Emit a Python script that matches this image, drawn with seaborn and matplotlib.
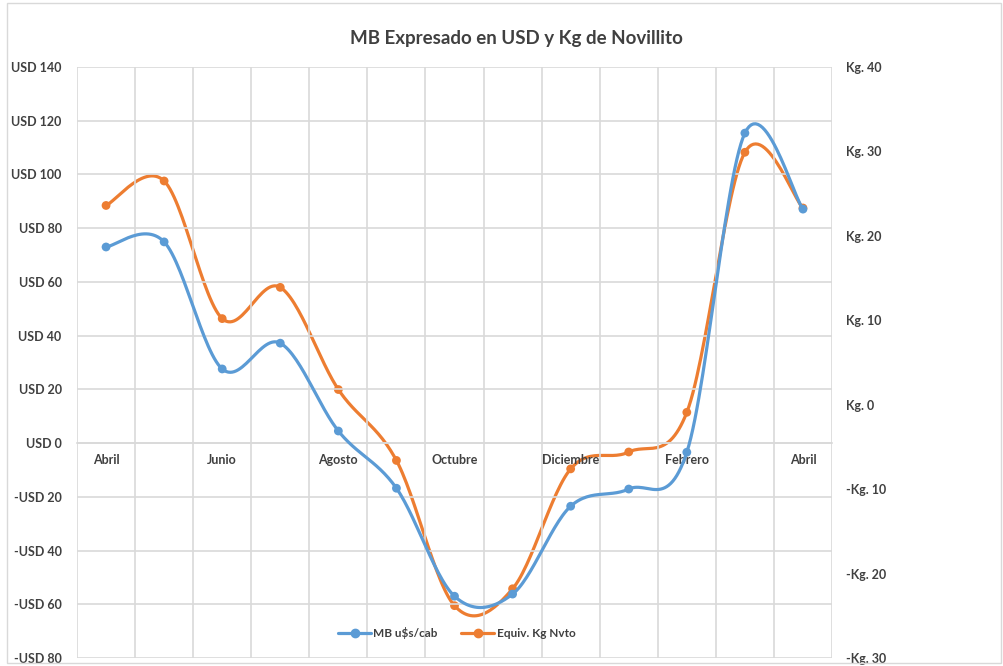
import numpy as np
import pandas as pd
import matplotlib
matplotlib.use("Agg")
import matplotlib.pyplot as plt
from matplotlib.lines import Line2D
from matplotlib.ticker import FuncFormatter, MultipleLocator
import seaborn as sns

meses = ["Abril", "Mayo", "Junio", "Julio", "Agosto", "Septiembre", "Octubre",
         "Noviembre", "Diciembre", "Enero", "Febrero", "Marzo", "Abril"]
mb_usd = [73.0, 74.9, 27.6, 37.2, 4.5, -16.8, -57.0, -56.2, -23.5, -17.1, -3.4, 115.4, 87.1]
equiv_kg = [23.6, 26.5, 10.2, 13.9, 1.8, -6.6, -23.8, -21.8, -7.6, -5.6, -0.9, 29.9, 23.3]

BLUE = "#5B9BD5"
ORANGE = "#ED7D31"
GRID = "#D9D9D9"
TXT = "#404040"

sns.set_theme(style="white")
plt.rcParams["font.family"] = ["Lato", "DejaVu Sans"]

df = pd.DataFrame({"x": np.arange(len(meses)), "usd": mb_usd, "kg": equiv_kg})


def smooth(xs, ys, n=30):
    # bezier smoothing like Excel's "smoothed line"
    p = np.column_stack([xs, ys]).astype(float)
    ext = np.vstack([p[0], p, p[-1]])
    out = []
    for i in range(len(p) - 1):
        p0, p1, p2, p3 = ext[i], ext[i + 1], ext[i + 2], ext[i + 3]
        b1 = p1 + (p2 - p0) / 6
        b2 = p2 - (p3 - p1) / 6
        t = np.linspace(0, 1, n)[:, None]
        seg = ((1 - t) ** 3) * p1 + 3 * ((1 - t) ** 2) * t * b1 + 3 * (1 - t) * t ** 2 * b2 + t ** 3 * p2
        out.append(seg if i == 0 else seg[1:])
    s = np.vstack(out)
    return s[:, 0], s[:, 1]


fig = plt.figure(figsize=(10.04, 6.66), dpi=100)
ax = fig.add_axes([0.0767, 0.012, 0.752, 0.8874])
ax2 = ax.twinx()

sx, sy = smooth(df["x"], df["usd"])
ax.plot(sx, sy, color=BLUE, lw=2.3, zorder=3)
sns.scatterplot(data=df, x="x", y="usd", ax=ax, color=BLUE, s=40, edgecolor="none", zorder=4)

sx2, sy2 = smooth(df["x"], df["kg"])
ax2.plot(sx2, sy2, color=ORANGE, lw=2.3, zorder=3)
sns.scatterplot(data=df, x="x", y="kg", ax=ax2, color=ORANGE, s=40, edgecolor="none", zorder=4)

ax.set_xlim(-0.5, len(meses) - 0.5)
ax.set_ylim(-80, 140)
ax2.set_ylim(-30, 40)
ax.yaxis.set_major_locator(MultipleLocator(20))
ax2.yaxis.set_major_locator(MultipleLocator(10))


def usd_fmt(v, pos):
    return f"-USD {abs(v):.0f}" if v < 0 else f"USD {v:.0f}"


def kg_fmt(v, pos):
    return f"-Kg. {abs(v):.0f}" if v < 0 else f"Kg. {v:.0f}"


ax.yaxis.set_major_formatter(FuncFormatter(usd_fmt))
ax2.yaxis.set_major_formatter(FuncFormatter(kg_fmt))

ax.set_xticks(df["x"][::2])
ax.set_xticklabels(meses[::2])
ax.set_xticks(np.arange(-0.5, len(meses)), minor=True)
ax.grid(True, which="minor", axis="x", color=GRID, lw=1.2)
ax.grid(True, which="major", axis="y", color=GRID, lw=1.2)
ax.set_axisbelow(True)

for a in (ax, ax2):
    for sp in a.spines.values():
        sp.set_visible(False)
    a.set_xlabel("")
    a.set_ylabel("")
ax.spines["bottom"].set_visible(True)
ax.spines["bottom"].set_position(("data", 0))
ax.spines["bottom"].set_color(GRID)
ax.spines["bottom"].set_linewidth(1.2)

ax.tick_params(axis="x", which="both", length=0, pad=8, labelsize=9, labelcolor=TXT)
ax.tick_params(axis="y", length=0, pad=11, labelsize=9, labelcolor=TXT)
ax2.tick_params(axis="y", length=0, pad=10, labelsize=9, labelcolor=TXT)
for lbl in ax.get_xticklabels() + ax.get_yticklabels() + ax2.get_yticklabels():
    lbl.set_fontweight("bold")

ax.set_zorder(ax2.get_zorder() + 1)
ax.patch.set_visible(False)
ax2.patch.set_visible(False)
fig.patch.set_facecolor("white")

fig.suptitle("MB Expresado en USD y Kg de Novillito", x=0.514, y=0.955,
             fontsize=13.5, fontweight="bold", color=TXT)

handles = [Line2D([0], [0], color=BLUE, lw=2.3, marker="o", markersize=6),
           Line2D([0], [0], color=ORANGE, lw=2.3, marker="o", markersize=6)]
fig.legend(handles, ["MB u$s/cab", "Equiv. Kg Nvto"], loc="center",
           bbox_to_anchor=(0.455, 0.05), ncol=2, frameon=False, handlelength=2.8,
           handletextpad=0.2, columnspacing=2.0,
           prop={"size": 8.5, "weight": "bold"}, labelcolor=TXT)

border = plt.Rectangle((0.007, 0.005), 0.99, 0.99, transform=fig.transFigure,
                       fill=False, edgecolor=GRID, lw=1.0)
fig.patches.append(border)

plt.savefig("out.png", dpi=100)
